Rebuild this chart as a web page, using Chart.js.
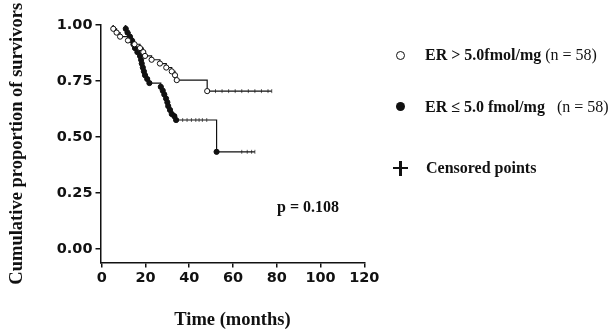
<!DOCTYPE html>
<html>
<head>
<meta charset="utf-8">
<script src="https://cdn.jsdelivr.net/npm/chart.js@4.4.1/dist/chart.umd.min.js"></script>
<style>
  body { margin: 0; background: #fff; }
  #wrap { position: relative; width: 613px; height: 330px; }
  #km { position: absolute; left: 0; top: 0; }
  .lbl { position: absolute; font-family: "Liberation Serif", "Times New Roman", serif; font-weight: bold; font-size: 16px; color: #111; white-space: pre; line-height: 16px; }
  .lbl span { font-weight: normal; }
  .sym { position: absolute; box-sizing: border-box; border-radius: 50%; }
</style>
</head>
<body>
<div id="wrap">
  <canvas id="km" width="613" height="330"></canvas>
  <div class="sym" style="left:396px;top:51px;width:9px;height:9px;border:1.3px solid #111;background:#fff"></div>
  <div class="lbl" style="left:425px;top:47px">ER &gt; 5.0fmol/mg <span>(n = 58)</span></div>
  <div class="sym" style="left:396px;top:102px;width:9px;height:9px;background:#111"></div>
  <div class="lbl" style="left:425px;top:99px">ER ≤ 5.0 fmol/mg   <span>(n = 58)</span></div>
  <div class="sym" style="left:393px;top:167px;width:15px;height:2.2px;border-radius:0;background:#111"></div>
  <div class="sym" style="left:399.4px;top:161px;width:2.2px;height:15px;border-radius:0;background:#111"></div>
  <div class="lbl" style="left:426px;top:160px">Censored points</div>
  <div class="lbl" style="left:277px;top:199px">p = 0.108</div>
</div>
<script>
// Kaplan-Meier estimates, time in months
var openStart = 4.8;
var openTimes = [5.3, 6.8, 8.4, 12, 15, 17.5, 19, 19.8, 22.8, 26.6, 29.5, 32, 33.5, 34.3, 48.2];
var openSurv  = [0.983, 0.966, 0.948, 0.931, 0.914, 0.897, 0.879, 0.862, 0.845, 0.828, 0.810, 0.793, 0.776, 0.754, 0.705];
var openEnd = 77.7;
var openCensored = [52, 55, 58, 61, 64, 67, 70, 73, 76, 77.7];

var lowStart = 10.4;
var lowTimes = [11, 11.8, 12.9, 13.8, 14.5, 15.2, 16.3, 17.5, 18, 18.3, 18.8, 19.3, 19.8, 20.8, 21.8,
                27, 27.9, 28.6, 29.4, 30, 30.4, 31.2, 32, 33.2, 34, 52.5];
var lowSurv  = [0.983, 0.966, 0.948, 0.931, 0.914, 0.897, 0.879, 0.862, 0.845, 0.828, 0.810, 0.793, 0.776, 0.759, 0.741,
                0.724, 0.707, 0.690, 0.672, 0.655, 0.638, 0.621, 0.603, 0.593, 0.576, 0.434];
var lowEnd = 70;
var lowCensored = [37, 39, 41, 43, 44.5, 46, 48, 64, 66.5, 68.5, 70];

var xTicks = [0, 20, 40, 60, 80, 100, 120];
var yTicks = [0, 0.25, 0.5, 0.75, 1];

function curve(start, times, surv, end) {
  var pts = [{x: start, y: 1}];
  for (var i = 0; i < times.length; i++) pts.push({x: times[i], y: surv[i]});
  pts.push({x: end, y: surv[surv.length - 1]});
  return pts;
}

function survAt(times, surv, t) {
  var s = 1;
  for (var i = 0; i < times.length; i++) if (times[i] <= t) s = surv[i];
  return s;
}

function censorPts(times, surv, cens) {
  return cens.map(function(t) { return {x: t, y: survAt(times, surv, t)}; });
}

var openData = curve(openStart, openTimes, openSurv, openEnd);
var lowData = curve(lowStart, lowTimes, lowSurv, lowEnd);

function markerRadius(ctx) {
  var n = ctx.dataset.data.length;
  return (ctx.dataIndex === 0 || ctx.dataIndex === n - 1) ? 0 : 2.6;
}

var tickFont = { family: "'DejaVu Sans', sans-serif", weight: 'bold', size: 14.5 };
var titleFont = { family: "'Liberation Serif', 'Times New Roman', serif", weight: 'bold', size: 18.5, lineHeight: 1.1 };

var ctx = document.getElementById('km');
var chart = new Chart(ctx, {
  type: 'scatter',
  data: {
    datasets: [
      {
        // horizontal until the event time, then the drop
        data: openData, showLine: true, stepped: 'before',
        borderColor: '#111', borderWidth: 1.2,
        pointBackgroundColor: '#fff', pointBorderColor: '#111', pointBorderWidth: 1,
        pointRadius: markerRadius
      },
      {
        data: lowData, showLine: true, stepped: 'before',
        borderColor: '#111', borderWidth: 1.2,
        pointBackgroundColor: '#111', pointBorderColor: '#111', pointBorderWidth: 1,
        pointRadius: markerRadius
      },
      {
        data: censorPts(openTimes, openSurv, openCensored), showLine: false,
        pointStyle: 'line', rotation: 90, pointRadius: 2, pointBorderWidth: 1,
        pointBorderColor: '#666'
      },
      {
        data: censorPts(lowTimes, lowSurv, lowCensored), showLine: false,
        pointStyle: 'line', rotation: 90, pointRadius: 2, pointBorderWidth: 1,
        pointBorderColor: '#666'
      }
    ]
  },
  options: {
    responsive: false,
    animation: false,
    layout: { padding: { left: 0, top: 25, right: 248.7, bottom: 0 } },
    plugins: { legend: { display: false }, tooltip: { enabled: false } },
    scales: {
      x: {
        type: 'linear', min: -0.55, max: 120,
        afterBuildTicks: function(scale) { scale.ticks = xTicks.map(function(v) { return {value: v}; }); },
        afterFit: function(scale) { scale.height = 67.5; },
        border: { display: true, color: '#111', width: 1.5 },
        grid: { drawOnChartArea: false, color: '#111', lineWidth: 1.5, tickLength: 5 },
        ticks: { color: '#111', font: tickFont, padding: 2, maxRotation: 0 },
        title: { display: true, text: 'Time (months)', color: '#111', font: titleFont, padding: { top: 0, bottom: 0 } }
      },
      y: {
        type: 'linear', min: -0.06, max: 1.0,
        afterBuildTicks: function(scale) { scale.ticks = yTicks.map(function(v) { return {value: v}; }); },
        afterFit: function(scale) { scale.width = 100.5; },
        border: { display: true, color: '#111', width: 1.5 },
        grid: { drawOnChartArea: false, color: '#111', lineWidth: 1.5, tickLength: 5 },
        ticks: { color: '#111', font: tickFont, padding: 3, callback: function(v) { return v.toFixed(2); } },
        title: { display: true, text: 'Cumulative proportion of survivors', color: '#111', font: titleFont, padding: { top: 7, bottom: 0 } }
      }
    }
  }
});
</script>
</body>
</html>
